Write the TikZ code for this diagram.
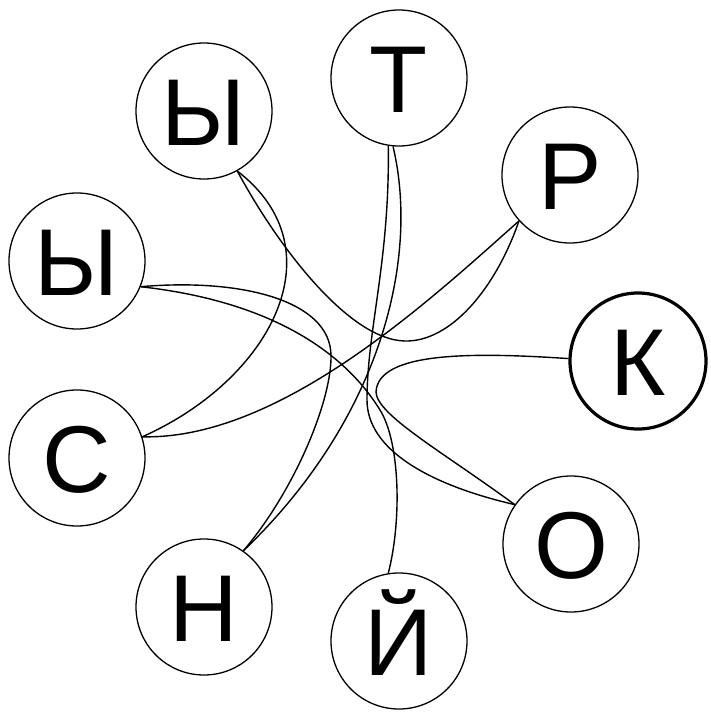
\documentclass[tikz,border=0pt]{standalone}
\usepackage{fontspec}
\setmainfont{Liberation Sans}
\begin{document}
\begin{tikzpicture}[x=1pt,y=-1pt,
  letter/.style={circle,draw,line width=1.3pt,minimum size=136pt,inner sep=0pt,
    font=\fontsize{95}{100}\selectfont,text height=68pt,text depth=0pt},
  thickring/.style={line width=3.2pt},
  link/.style={line width=1.4pt}]
\useasboundingbox (0,0) rectangle (711,720);
\node[letter] (t) at (399,78) {Т};
\node[letter] (ytop) at (204,111) {Ы};
\node[letter] (r) at (570,175) {Р};
\node[letter] (yl) at (77,261) {Ы};
\node[letter,thickring] (k) at (638,361) {К};
\node[letter] (c) at (77,458) {С};
\node[letter] (o) at (571,544) {О};
\node[letter] (n) at (204,607) {Н};
\node[letter] (j) at (399,641) {Й};
% Ы (top) -- С
\draw[link] (ytop.-61) .. controls (340,250) and (270,380) .. (c.18);
% Ы (top) -- Р
\draw[link] (ytop.-61) .. controls (280,250) and (350,340) .. (405,341)
  .. controls (450,342) and (495,290) .. (r.-138);
% Р -- С
\draw[link] (r.-138) .. controls (430,300) and (280,440) .. (c.18);
% Ы (left) -- Н
\draw[link] (yl.-22) .. controls (240,278) and (330,300) .. (331,355)
  .. controls (332,400) and (295,490) .. (n.55);
% Ы (left) -- Й
\draw[link] (yl.-22) .. controls (260,300) and (340,345) .. (380,410)
  .. controls (400,442) and (402,520) .. (j.99);
% Т -- Н
\draw[link] (t.-95) .. controls (420,260) and (380,420) .. (n.55);
% Т -- О
\draw[link] (t.-99) .. controls (390,260) and (367,330) .. (367,400)
  .. controls (367,450) and (430,485) .. (o.145);
% К -- О
\draw[link] (k.178) .. controls (470,352) and (378,352) .. (376,392)
  .. controls (377,415) and (440,450) .. (o.145);
\end{tikzpicture}
\end{document}
